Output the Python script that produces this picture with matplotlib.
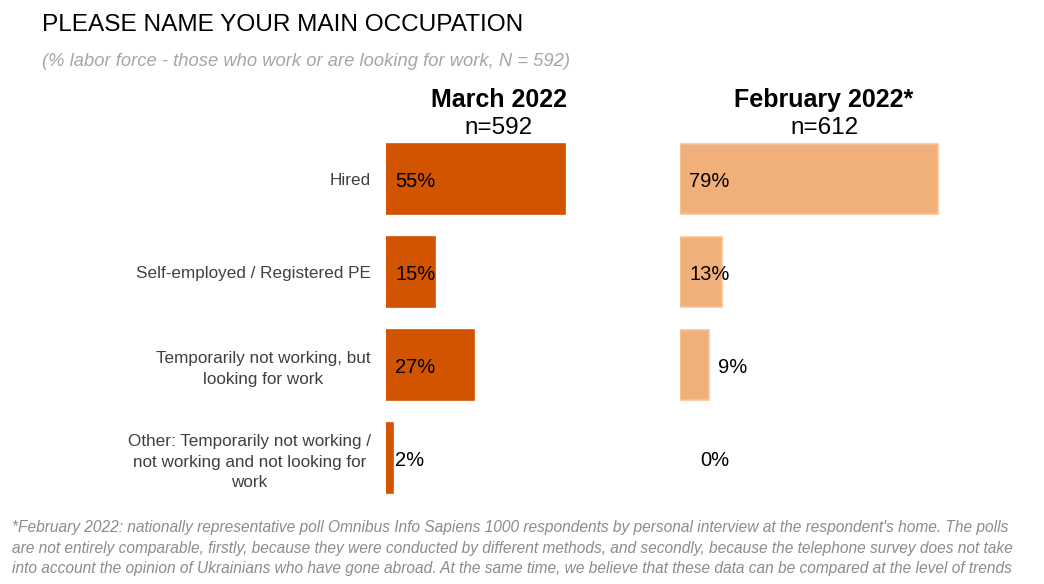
import matplotlib.pyplot as plt

plt.rcParams["font.family"] = ["Liberation Sans", "DejaVu Sans"]

# ============================================================
# DATA
# ============================================================

categories = [
    "Hired",
    "Self-employed / Registered PE",
    "Temporarily not working, but\nlooking for work",
    "Other: Temporarily not working /\nnot working and not looking for\nwork",
]
march_2022 = [55, 15, 27, 2]
february_2022 = [79, 13, 9, 0]
panel_titles = ["March 2022", "February 2022*"]
panel_sizes = ["n=592", "n=612"]

title = "PLEASE NAME YOUR MAIN OCCUPATION"
subtitle = "(% labor force - those who work or are looking for work, N = 592)"
footnote = ("*February 2022: nationally representative poll Omnibus Info Sapiens 1000 respondents by personal interview at the respondent's home. The polls\n"
            "are not entirely comparable, firstly, because they were conducted by different methods, and secondly, because the telephone survey does not take\n"
            "into account the opinion of Ukrainians who have gone abroad. At the same time, we believe that these data can be compared at the level of trends")

# ============================================================
# FIGURE
# ============================================================

W, H = 1044, 584
fig = plt.figure(figsize=(W / 100, H / 100), dpi=100)

px_per_unit = 3.26
ax_w_px = 280
ax_bottom = (H - 504.5) / H
ax_height = 372 / H

fig.text(42 / W, 1 - 25 / H, title, fontsize=17.6, va="center", ha="left", color="black")
fig.text(42 / W, 1 - 62 / H, subtitle, fontsize=13.2, style="italic", va="center", ha="left", color="#A6A6A6")
fig.text(12 / W, 1 - 548 / H, footnote, fontsize=11.2, style="italic", va="center", ha="left",
         color="#8C8C8C", linespacing=1.45)

panels = [
    (386, march_2022, "#D35400", "#D35400", [2.8, 2.8, 2.8, 2.8]),
    (680, february_2022, "#F1B07A", "#F6C49A", [2.8, 2.8, 11.7, 6.2]),
]

for i, (left_px, values, color, edge, label_x) in enumerate(panels):
    ax = fig.add_axes([left_px / W, ax_bottom, ax_w_px / W, ax_height])
    y = list(range(len(categories)))
    bars = ax.barh(y, values, height=0.75, color=color, edgecolor=edge, linewidth=1.2)
    for b, v in zip(bars, values):
        if v == 0:
            b.set_visible(False)
    ax.set_xlim(0, ax_w_px / px_per_unit)
    ax.set_ylim(3.5, -0.5)
    for s in ax.spines.values():
        s.set_visible(False)
    ax.set_xticks([])

    for yy, v, lx in zip(y, values, label_x):
        ax.text(lx, yy + 0.03, f"{v}%", fontsize=14.5, va="center", ha="left", color="black")

    if i == 0:
        ax.set_yticks(y)
        ax.set_yticklabels(categories, fontsize=12.3, color="#404040")
        ax.tick_params(axis="y", length=0, pad=11)
        for lbl in ax.get_yticklabels():
            lbl.set_multialignment("center")
            lbl.set_linespacing(1.45)
    else:
        ax.set_yticks([])

    center_px = {0: 499, 1: 824}[i]
    fig.text(center_px / W, 1 - 100 / H, panel_titles[i], fontsize=18, fontweight="bold",
             ha="center", va="center", color="black")
    fig.text(center_px / W, 1 - 128 / H, panel_sizes[i], fontsize=17.5,
             ha="center", va="center", color="black")

fig.savefig("out.png", dpi=100)
